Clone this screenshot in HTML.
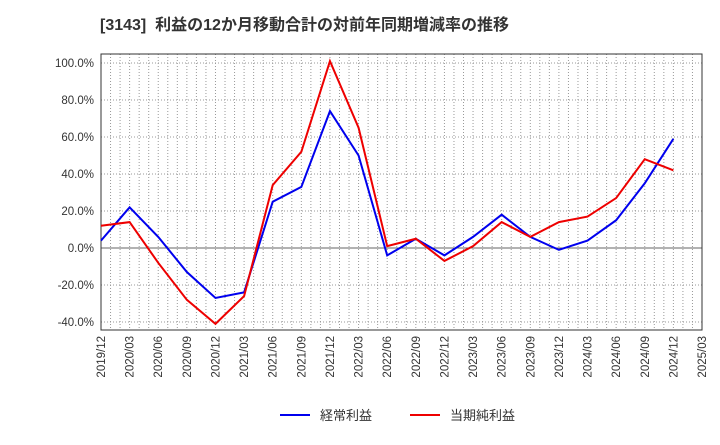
<!DOCTYPE html>
<html><head><meta charset="utf-8"><style>
body{margin:0;background:#fff;font-family:"Liberation Sans","Noto Sans CJK JP",sans-serif}
</style></head><body>
<svg id="c" width="720" height="440" xmlns="http://www.w3.org/2000/svg">
<text x="100" y="30" font-size="16" font-weight="bold" fill="#333" xml:space="preserve">[3143]  利益の12か月移動合計の対前年同期増減率の推移</text>
<g id="grid"></g><g id="axes"></g><g id="series"></g>
<g>
<line x1="280" y1="415" x2="310" y2="415" stroke="#0000ee" stroke-width="2"/>
<text x="320" y="420" font-size="13" fill="#333">経常利益</text>
<line x1="410" y1="415" x2="440" y2="415" stroke="#ee0000" stroke-width="2"/>
<text x="450" y="420" font-size="13" fill="#333">当期純利益</text>
</g>
</svg>
<script>
const categories=["2019/12","2020/03","2020/06","2020/09","2020/12","2021/03","2021/06","2021/09","2021/12","2022/03","2022/06","2022/09","2022/12","2023/03","2023/06","2023/09","2023/12","2024/03","2024/06","2024/09","2024/12","2025/03"];
const keijo=[4,22,6,-13,-27,-24,25,33,74,50,-4,5,-4,6,18,6,-1,4,15,35,59];
const junri=[12,14,-8,-28,-41,-26,34,52,101,65,1,5,-7,1,14,6,14,17,27,48,42];
const yTicks=[-40,-20,0,20,40,60,80,100];
const L=101,R=702,T=54,B=330;
const x=i=>L+(R-L)*i/(categories.length-1);
const y=v=>248-v*(248-63)/100;
const NS="http://www.w3.org/2000/svg";
function mk(p,t,a){const e=document.createElementNS(NS,t);for(const k in a)e.setAttribute(k,a[k]);p.appendChild(e);return e;}
const g=document.getElementById('grid'),ax=document.getElementById('axes'),s=document.getElementById('series');
for(let m=1;m<(categories.length-1)*3;m++){const xx=L+(R-L)*m/((categories.length-1)*3);
const l=mk(g,'line',{x1:xx,x2:xx,y1:T,y2:B,stroke:'#999','stroke-dasharray':'1,2','stroke-width':1});

}
yTicks.forEach(v=>{const l=mk(g,'line',{x1:L,x2:R,y1:y(v),y2:y(v),stroke:'#999','stroke-dasharray':'1,2'});


const t=mk(ax,'text',{x:L-7,y:y(v)+4,'text-anchor':'end','font-size':11.5,fill:'#333'});t.textContent=v.toFixed(1)+'%';

});
const z=mk(ax,'line',{x1:L,x2:R,y1:y(0),y2:y(0),stroke:'#666'});


const fr=mk(ax,'rect',{x:L,y:T,width:R-L,height:B-T,fill:'none',stroke:'#333'});


categories.forEach((c,i)=>{const t=mk(ax,'text',{transform:`translate(${x(i)+4},${B+6}) rotate(-90)`,'text-anchor':'end','font-size':11.5,fill:'#333'});t.textContent=c;

});
[[keijo,'#0000ee','keijo-line'],[junri,'#ee0000','junri-line']].forEach(([d,col,n])=>{
const p=mk(s,'polyline',{points:d.map((v,i)=>x(i)+','+y(v)).join(' '),fill:'none',stroke:col,'stroke-width':2});

});
</script>
</body></html>
